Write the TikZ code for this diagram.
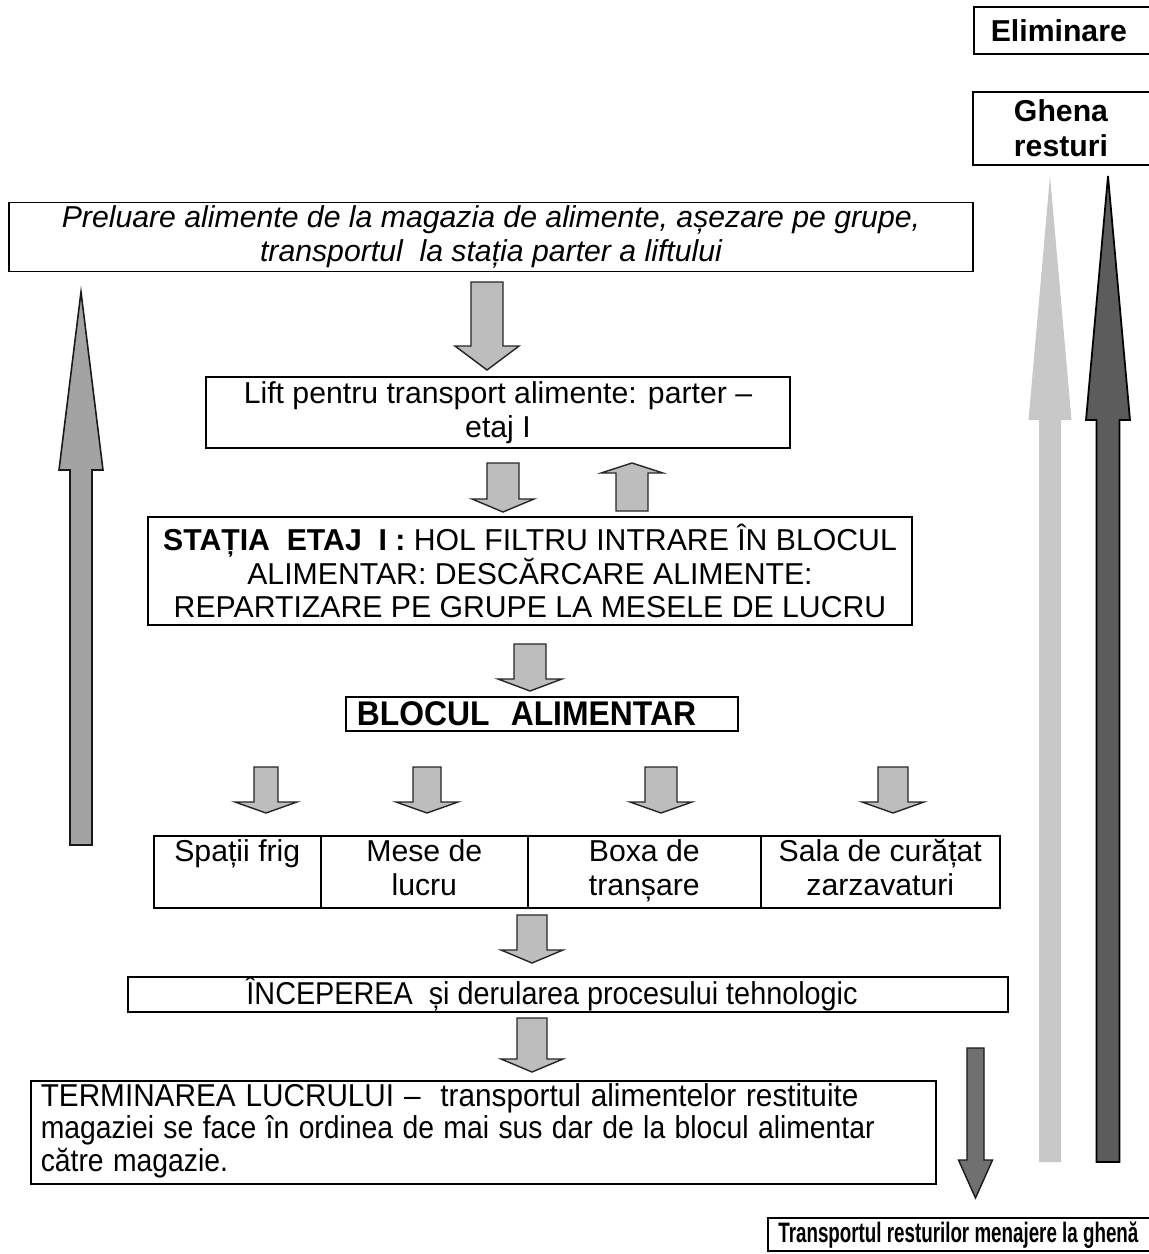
\documentclass[tikz,border=0pt]{standalone}
\usepackage{fontspec}
\usepackage{graphicx}
\setmainfont{Liberation Sans}
\definecolor{arrowgray}{HTML}{BDBDBD}
\definecolor{leftgray}{HTML}{A3A3A3}
\definecolor{lightgray2}{HTML}{C8C8C8}
\definecolor{darkgray2}{HTML}{5C5C5C}
\definecolor{downgray}{HTML}{707070}
\newcommand{\cond}[2]{\scalebox{#1}[1]{#2}}
% style, x, ytail, ytip, headlen, shafthalf, headhalf
\newcommand{\blockarrow}[7]{%
  \filldraw[#1] ({#2-#6},#3) -- ({#2+#6},#3) -- ({#2+#6},{#4-#5}) -- ({#2+#7},{#4-#5})
    -- (#2,#4) -- ({#2-#7},{#4-#5}) -- ({#2-#6},{#4-#5}) -- cycle;}
\begin{document}
\begin{tikzpicture}[x=0.02cm,y=-0.02cm,
  txt/.style={font=\fontsize{17.2pt}{19.3pt}\selectfont},
  box/.style={draw, line width=0.9pt, inner sep=0pt, align=center, txt},
  boxline/.style={draw, line width=0.9pt},
  smallarrow/.style={fill=arrowgray, draw=black!85, line width=0.8pt, line join=miter},
  leftarrow/.style={fill=leftgray, draw=black!90, line width=0.9pt, line join=miter},
  lightarrow/.style={fill=lightgray2, draw=none},
  darkarrow/.style={fill=darkgray2, draw=black, line width=1pt, line join=miter},
  downarrow/.style={fill=downgray, draw=black!90, line width=0.8pt, line join=miter}]
\useasboundingbox (0,0) rectangle (1149,1254);
\fill[white] (0,0) rectangle (1149,1254);

% right column boxes
\node[box, anchor=west, inner xsep=17*0.02cm, text width=190*0.02cm, align=left,
  minimum height=47*0.02cm, font=\fontsize{17.2pt}{19.3pt}\selectfont\bfseries] (elim) at (973,30.5) {Eliminare};
\draw[boxline] (973,92) rectangle (1190,165);
\node[txt, align=center, font=\fontsize{17.2pt}{19.8pt}\selectfont\bfseries] (ghena) at (1061,128.5) {Ghena\\resturi};

% main chain
\node[box, minimum width=964*0.02cm, minimum height=69*0.02cm] (preluare) at (491,237)
  {\itshape Preluare alimente de la magazia de alimente, așezare pe grupe,\\ \itshape transportul\ \ la stația parter a liftului};
\node[box, minimum width=584*0.02cm, minimum height=71*0.02cm] (lift) at (498,412.5)
  {Lift pentru transport alimente: parter –\\etaj I};
\node[box, minimum width=764*0.02cm, minimum height=108*0.02cm] (statia) at (530,571)
  {\textbf{STAȚIA\ \ ETAJ\ \ I :} HOL FILTRU INTRARE ÎN BLOCUL\\ALIMENTAR: DESCĂRCARE ALIMENTE:\\REPARTIZARE PE GRUPE LA MESELE DE LUCRU};
\node[box, anchor=west, inner xsep=11*0.02cm, text width=370*0.02cm, align=left,
  minimum height=34*0.02cm, font=\fontsize{19.5pt}{19.3pt}\selectfont\bfseries] (bloc) at (345,714)
  {\cond{0.93}{BLOCUL\ \ ALIMENTAR}};

% cells
\node[box, anchor=north west, minimum width=167*0.02cm, minimum height=72*0.02cm] (c1) at (153,835) {Spații frig\strut\\ \strut};
\node[box, anchor=north west, minimum width=207*0.02cm, minimum height=72*0.02cm] (c2) at (320,835) {Mese de\strut\\lucru\strut};
\node[box, anchor=north west, minimum width=233*0.02cm, minimum height=72*0.02cm] (c3) at (527,835) {Boxa de\strut\\tranșare\strut};
\node[box, anchor=north west, minimum width=239*0.02cm, minimum height=72*0.02cm] (c4) at (760,835) {Sala de curățat\strut\\zarzavaturi\strut};

\node[box, minimum width=880*0.02cm, minimum height=35*0.02cm, font=\fontsize{18pt}{19.3pt}\selectfont] (incep) at (568,994.5)
  {\cond{0.91}{ÎNCEPEREA\ \ și derularea procesului tehnologic}\hspace*{0.64cm}};
\node[box, anchor=north west, inner xsep=10*0.02cm, text width=885*0.02cm, align=left,
  minimum height=103*0.02cm, font=\fontsize{18pt}{18.0pt}\selectfont] (term) at (30,1080)
  {\raisebox{-4pt}{\begin{tabular}{@{}l@{}}\cond{0.94}{TERMINAREA LUCRULUI –\ \ transportul alimentelor restituite}\\\cond{0.895}{magaziei se face în ordinea de mai sus dar de la blocul alimentar}\\\cond{0.895}{către magazie.}\end{tabular}}};
\draw[boxline] (768,1218) rectangle (1190,1251);
\node[anchor=west, inner sep=0pt, font=\fontsize{16pt}{19.3pt}\selectfont\bfseries] (transp) at (778,1235)
  {\cond{0.668}{Transportul resturilor menajere la ghenă}};

% small block arrows
\blockarrow{smallarrow}{487}{282}{370}{24}{16}{32}
\blockarrow{smallarrow}{503}{463}{512}{13}{16}{31}
\blockarrow{smallarrow}{632}{511}{463}{-10}{16}{31}
\blockarrow{smallarrow}{530}{644}{691}{12}{16}{32}
\blockarrow{smallarrow}{266}{767}{813}{11}{12}{31}
\blockarrow{smallarrow}{427}{767}{813}{11}{14}{31}
\blockarrow{smallarrow}{661}{767}{813}{11}{16}{31}
\blockarrow{smallarrow}{893}{767}{813}{11}{15}{31}
\blockarrow{smallarrow}{532}{915}{963}{13}{15}{31}
\blockarrow{smallarrow}{532}{1018}{1072}{13}{15}{31}

% long arrows
\blockarrow{leftarrow}{81}{845}{292}{-178}{11}{22}
\blockarrow{lightarrow}{1050}{1162}{176}{-244}{11}{21.5}
\blockarrow{darkarrow}{1108}{1162}{176}{-244}{11.5}{22}
\blockarrow{downarrow}{975.5}{1048}{1198}{38}{8.5}{17}
\end{tikzpicture}
\end{document}
